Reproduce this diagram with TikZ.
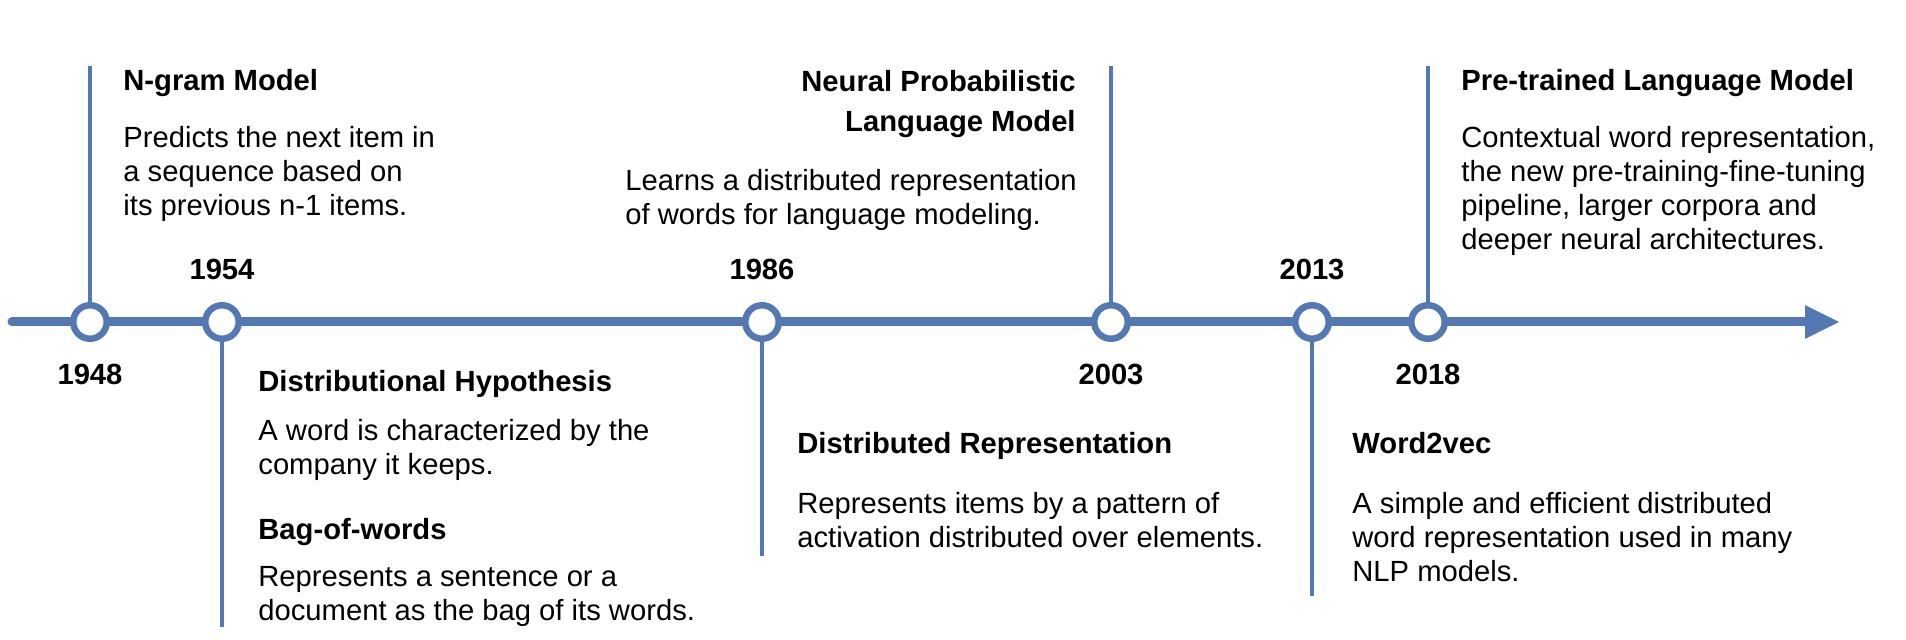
\documentclass[tikz,border=0pt]{standalone}
\usepackage{fontspec}
\setmainfont{Liberation Sans}
\usetikzlibrary{arrows.meta, positioning}
\definecolor{axisblue}{HTML}{5478B4}

\begin{document}
\begin{tikzpicture}[x=0.5pt, y=-0.5pt,
    year/.style={font=\fontsize{14.6}{17}\selectfont\bfseries, inner sep=0pt},
    title/.style={font=\fontsize{14.6}{20}\selectfont\bfseries, inner sep=0pt, anchor=base west},
    desc/.style={font=\fontsize{14.6}{17}\selectfont, inner sep=0pt, align=left, anchor=north west},
    dot/.style={circle, draw=axisblue, fill=white, line width=3.25pt, minimum size=16.75pt, inner sep=0pt},
    stem/.style={draw=axisblue, line width=2.25pt}]
  \useasboundingbox (0,0) rectangle (1906,640);

  % time axis
  \coordinate (start) at (12,322);
  \coordinate (end) at (1840,322);
  \draw[axisblue, line width=4.5pt, line cap=round, -{Triangle[length=17.5pt, width=15.5pt]}] (start) -- (end);

  % free ends of the stems
  \coordinate (e1948) at (90,66);
  \coordinate (e1954) at (222,627);
  \coordinate (e1986) at (762,556);
  \coordinate (e2003) at (1111,66);
  \coordinate (e2013) at (1312,596);
  \coordinate (e2018) at (1428,66);

  \draw[stem] (90,322) -- (e1948);
  \draw[stem] (222,322) -- (e1954);
  \draw[stem] (762,322) -- (e1986);
  \draw[stem] (1111,322) -- (e2003);
  \draw[stem] (1312,322) -- (e2013);
  \draw[stem] (1428,322) -- (e2018);

  \node[dot] (d1948) at (90,322) {};
  \node[dot] (d1954) at (222,322) {};
  \node[dot] (d1986) at (762,322) {};
  \node[dot] (d2003) at (1111,322) {};
  \node[dot] (d2013) at (1312,322) {};
  \node[dot] (d2018) at (1428,322) {};

  \node[year, below=11pt of d1948] (y1948) {1948};
  \node[year, above=11pt of d1954] (y1954) {1954};
  \node[year, above=11pt of d1986] (y1986) {1986};
  \node[year, below=11pt of d2003] (y2003) {2003};
  \node[year, above=11pt of d2013] (y2013) {2013};
  \node[year, below=11pt of d2018] (y2018) {2018};

  % above the axis
  \node[title] (ngram) at (123,91) {N-gram Model};
  \node[desc] (ngramtxt) at (123,126) {Predicts the next item in\\a sequence based on\\its previous n-1 items.};

  \node[title, anchor=north east, align=right] (nplm) at (1076,70) {Neural Probabilistic\\Language Model};
  \node[desc] (nplmtxt) at (625,169) {Learns a distributed representation\\of words for language modeling.};

  \node[title] (plm) at (1461,91) {Pre-trained Language Model};
  \node[desc] (plmtxt) at (1461,126) {Contextual word representation,\\the new pre-training-fine-tuning\\pipeline, larger corpora and\\deeper neural architectures.};

  % below the axis
  \node[title] (dh) at (258,392) {Distributional Hypothesis};
  \node[desc] (dhtxt) at (258,419) {A word is characterized by the\\company it keeps.};
  \node[title] (bow) at (258,540) {Bag-of-words};
  \node[desc] (bowtxt) at (258,566) {Represents a sentence or a\\document as the bag of its words.};

  \node[title] (dr) at (797,454) {Distributed Representation};
  \node[desc] (drtxt) at (797,492) {Represents items by a pattern of\\activation distributed over elements.};

  \node[title] (w2v) at (1352,454) {Word2vec};
  \node[desc] (w2vtxt) at (1352,492) {A simple and efficient distributed\\word representation used in many\\NLP models.};
\end{tikzpicture}
\end{document}
